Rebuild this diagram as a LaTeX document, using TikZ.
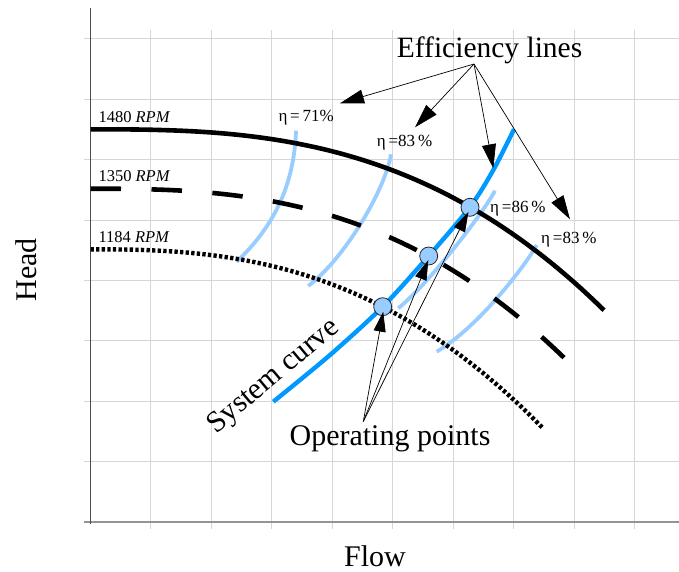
\documentclass[tikz,border=0pt]{standalone}
\usepackage{fontspec}
\setmainfont{Liberation Serif}
\usetikzlibrary{arrows.meta,calc}
\definecolor{sysblue}{HTML}{0099FF}
\definecolor{effblue}{HTML}{99CCFF}
\definecolor{gridgray}{HTML}{D6D6D6}
\begin{document}
\begin{tikzpicture}[x=1pt,y=-1pt,
  gridline/.style={draw=gridgray,line width=1pt},
  haxis/.style={draw=black!42,line width=1.6pt},
  vaxis/.style={draw=black!70,line width=1.3pt},
  effline/.style={draw=effblue,line width=3.8pt},
  syscurve/.style={draw=sysblue,line width=4.4pt},
  speedsolid/.style={draw=black,line width=4.6pt},
  speeddash/.style={draw=black,line width=4.6pt,dash pattern=on 30.5pt off 30.5pt},
  speeddot/.style={draw=black,line width=4.4pt,dash pattern=on 3.3pt off 2.3pt},
  oppoint/.style={circle,draw=black!85,line width=0.8pt,fill=effblue,minimum size=18pt,inner sep=0pt},
  effptr/.style={draw=black,line width=0.7pt,-{Triangle[length=24pt,width=14pt]}},
  opptr/.style={draw=black,line width=0.7pt,-{Triangle[length=20pt,width=12pt]}},
  rpmlabel/.style={anchor=base west,inner sep=0pt,font=\fontsize{16.5}{18}\selectfont},
  etalabel/.style={anchor=base west,inner sep=0pt,font=\fontsize{17}{19}\selectfont},
  biglabel/.style={inner sep=0pt,font=\fontsize{30}{33}\selectfont}]
\useasboundingbox (0,0) rectangle (679,572);

% grid
\foreach \k in {0,...,7}
  \draw[gridline] (84,{39+60.375*\k}) -- (679,{39+60.375*\k});
\foreach \k in {1,...,9}
  \draw[gridline] ({90.3+60.5*\k},30) -- ({90.3+60.5*\k},529);

% axes
\draw[haxis] (84,522) -- (679,522);
\draw[vaxis] (90.3,8) -- (90.3,524);

% constant-efficiency lines
\draw[effline] (296,130.7) .. controls (294,190) and (270,230) .. (236.7,261.7);
\draw[effline] (391,154.3) .. controls (385,190) and (345,258) .. (308.3,286);
\draw[effline] (495,190.7) .. controls (482,215) and (430,282) .. (398.3,308.3);
\draw[effline] (536.7,245) .. controls (527,263) and (480,326) .. (436.7,351.7);

% system curve
\draw[syscurve] plot[smooth] coordinates {(273.3,401.7) (330,355) (382.7,306.7) (428.7,256) (470,207) (493.3,170) (514,129.3)};

% pump curves at three speeds
\draw[speedsolid] plot[domain=0.5:514,samples=90] ({90+\x},{129.3+181*(\x/514)^2.8});
\draw[speeddash] plot[domain=0.5:476,samples=90] ({90+\x},{188.7+171*(\x/476)^2.72});
\draw[speeddot] plot[domain=0.5:453,samples=90] ({90+\x},{249.3+179*(\x/453)^2.6});

% speed labels
\node[rpmlabel] (rpm1) at (98.3,122.7) {1480 \textit{RPM}};
\node[rpmlabel] (rpm2) at (98.3,181.7) {1350 \textit{RPM}};
\node[rpmlabel] (rpm3) at (98.3,242.7) {1184 \textit{RPM}};

% efficiency labels
\node[etalabel] (eta71) at (278.3,121.7) {η\,=\,71\%};
\node[etalabel] (eta83a) at (376.7,146.7) {η\,=83\,\%};
\node[etalabel] (eta86) at (490,212.7) {η\,=86\,\%};
\node[etalabel] (eta83b) at (541,243.3) {η\,=83\,\%};

% operating points
\node[oppoint] (op1) at (382.7,306.7) {};
\node[oppoint] (op2) at (428.7,256) {};
\node[oppoint] (op3) at (470,207.3) {};

% callout texts
\node[biglabel,anchor=base west,font=\fontsize{29.5}{32}\selectfont] (efftext) at (396.7,57.3) {Efficiency lines};
\node[biglabel,anchor=base] (optext) at (390,445.7) {Operating points};
\node[biglabel,rotate=40] (systext) at (274,377) {System curve};
\node[biglabel,anchor=base] (flowtext) at (375,566) {Flow};
\node[biglabel,anchor=base,rotate=90] (headtext) at (36,270) {Head};

% efficiency callout arrows
\coordinate (effsrc) at (474,64);
\coordinate (t71) at (340,103.3);
\coordinate (t83a) at (415,127.3);
\coordinate (t86) at (493.3,168.3);
\coordinate (t83b) at (570,219.3);
\draw[effptr] (effsrc) -- (t71);
\draw[effptr] (effsrc) -- (t83a);
\draw[effptr] (effsrc) -- (t86);
\draw[effptr] (effsrc) -- (t83b);

% operating point callout arrows
\coordinate (opsrc) at (363.3,421.5);
\draw[opptr] (opsrc) -- ($(op1)+(0.5,5)$);
\draw[opptr] (opsrc) -- ($(op2)+(-0.4,4)$);
\draw[opptr] (opsrc) -- ($(op3)+(-1.5,4.5)$);
\end{tikzpicture}
\end{document}
